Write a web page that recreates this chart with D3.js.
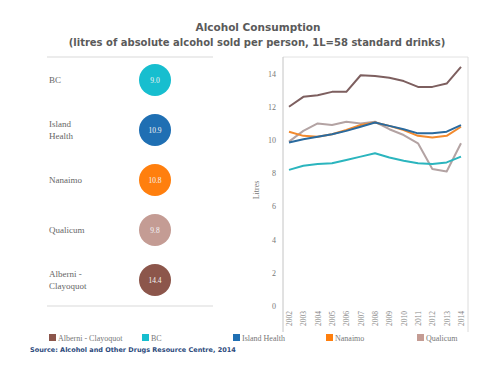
<!DOCTYPE html>
<html>
<head>
<meta charset="utf-8">
<script src="https://cdn.jsdelivr.net/npm/d3@7/dist/d3.min.js"></script>
<style>
  html, body { margin: 0; padding: 0; background: #fff; }
  svg { display: block; }
</style>
</head>
<body>
<svg id="chart" width="491" height="370"></svg>
<script>
// Alcohol consumption, litres of absolute alcohol per person, 2002-2014
const years = [2002, 2003, 2004, 2005, 2006, 2007, 2008, 2009, 2010, 2011, 2012, 2013, 2014];
const regions = ["Alberni - Clayoquot", "BC", "Island Health", "Nanaimo", "Qualicum"];
const alberni  = [12.0, 12.6, 12.7, 12.9, 12.9, 13.9, 13.85, 13.75, 13.55, 13.2, 13.2, 13.4, 14.4];
const bc       = [8.2, 8.45, 8.55, 8.6, 8.8, 9.0, 9.2, 8.95, 8.75, 8.6, 8.55, 8.65, 9.0];
const island   = [9.85, 10.05, 10.2, 10.35, 10.55, 10.8, 11.05, 10.85, 10.65, 10.4, 10.4, 10.5, 10.9];
const nanaimo  = [10.5, 10.25, 10.2, 10.35, 10.6, 10.9, 11.05, 10.85, 10.6, 10.25, 10.15, 10.25, 10.8];
const qualicum = [9.9, 10.55, 11.0, 10.9, 11.1, 11.0, 11.1, 10.65, 10.3, 9.8, 8.25, 8.1, 9.8];
const yTicks = [0, 2, 4, 6, 8, 10, 12, 14];

// 2014 summary circles, top to bottom
const summaryNames  = ["BC", "Island Health", "Nanaimo", "Qualicum", "Alberni - Clayoquot"];
const summaryLabels = [["BC"], ["Island", "Health"], ["Nanaimo"], ["Qualicum"], ["Alberni -", "Clayoquot"]];

const colors = {
  "Alberni - Clayoquot": "#8c564b",
  "BC": "#17becf",
  "Island Health": "#1f6fb3",
  "Nanaimo": "#ff7f0e",
  "Qualicum": "#c49c94"
};
const lineColors = {
  "Alberni - Clayoquot": "#7d5f5f",
  "BC": "#2bb5be",
  "Island Health": "#2a6a9e",
  "Nanaimo": "#f28a2e",
  "Qualicum": "#b3a3a3"
};
const seriesByName = {
  "Alberni - Clayoquot": alberni,
  "BC": bc,
  "Island Health": island,
  "Nanaimo": nanaimo,
  "Qualicum": qualicum
};

const svg = d3.select("#chart");
const serif = "'Liberation Serif', 'DejaVu Serif', serif";
const sans = "'DejaVu Sans', Verdana, sans-serif";

// Title
svg.append("text").attr("x", 258).attr("y", 31).attr("text-anchor", "middle")
  .attr("font-family", sans).attr("font-weight", "bold").attr("font-size", 10.5)
  .attr("fill", "#5a5a5a").text("Alcohol Consumption");
svg.append("text").attr("x", 257).attr("y", 46).attr("text-anchor", "middle")
  .attr("font-family", sans).attr("font-weight", "bold").attr("font-size", 10)
  .attr("fill", "#5a5a5a").text("(litres of absolute alcohol sold per person, 1L=58 standard drinks)");

// Left panel: summary circles
const rowY = d3.scalePoint().domain(summaryNames).range([80, 280]);
svg.append("line").attr("x1", 47).attr("x2", 213).attr("y1", 57).attr("y2", 57)
  .attr("stroke", "#ececec").attr("stroke-width", 2);
svg.append("line").attr("x1", 47).attr("x2", 213).attr("y1", 306).attr("y2", 306)
  .attr("stroke", "#ececec").attr("stroke-width", 2);

const rows = svg.append("g").selectAll("g").data(summaryNames).join("g")
  .attr("transform", d => `translate(0,${rowY(d)})`);
rows.append("text")
  .attr("font-family", serif).attr("font-size", 9).attr("fill", "#666")
  .each(function(d, i) {
    const lines = summaryLabels[i];
    const t = d3.select(this);
    lines.forEach((ln, j) => {
      t.append("tspan").attr("x", 49)
        .attr("y", (j - (lines.length - 1) / 2) * 12 + 3)
        .text(ln);
    });
  });
rows.append("circle").attr("cx", 155).attr("cy", 0).attr("r", 16)
  .attr("fill", d => colors[d]);
rows.append("text").attr("x", 155).attr("y", 2.5).attr("text-anchor", "middle")
  .attr("font-family", serif).attr("font-size", 7.5).attr("fill", "#f4f4f4")
  .text(d => seriesByName[d][seriesByName[d].length - 1].toFixed(1));

// Right panel: line chart
const x = d3.scalePoint().domain(years).range([289, 461]);
const y = d3.scaleLinear().domain([0, 15]).range([306, 57]);

// frame
svg.append("line").attr("x1", 283).attr("x2", 468).attr("y1", 57).attr("y2", 57)
  .attr("stroke", "#e2e2e2");
svg.append("line").attr("x1", 468).attr("x2", 468).attr("y1", 57).attr("y2", 332)
  .attr("stroke", "#dcdcdc");

const yAxis = svg.append("g").attr("transform", "translate(283,0)")
  .call(d3.axisLeft(y).tickValues(yTicks).tickSize(0).tickPadding(7));
yAxis.select(".domain").attr("d", "M0,57V332").attr("stroke", "#c4c4c4");
yAxis.selectAll("text").attr("font-family", serif).attr("font-size", 8).attr("fill", "#777");

const xAxis = svg.append("g").attr("transform", "translate(0,308)")
  .call(d3.axisBottom(x).tickSize(0).tickPadding(3));
xAxis.select(".domain").remove();
xAxis.selectAll("text")
  .attr("font-family", serif).attr("font-size", 7.5).attr("fill", "#888")
  .attr("transform", "rotate(-90)").attr("text-anchor", "end")
  .attr("x", -3).attr("y", 0).attr("dy", "0.32em");

svg.append("text").attr("transform", "translate(259,190) rotate(-90)")
  .attr("text-anchor", "middle").attr("font-family", serif).attr("font-size", 8)
  .attr("fill", "#777").text("Litres");

const line = d3.line().x((d, i) => x(years[i])).y(d => y(d));
const drawOrder = ["Qualicum", "Nanaimo", "BC", "Island Health", "Alberni - Clayoquot"];
svg.append("g").selectAll("path").data(drawOrder).join("path")
  .attr("d", d => line(seriesByName[d]))
  .attr("fill", "none").attr("stroke", d => lineColors[d])
  .attr("stroke-width", 2).attr("stroke-linejoin", "round");

// Legend
const legendX = [49, 142, 233, 326, 417];
const legend = svg.append("g").selectAll("g").data(regions).join("g")
  .attr("transform", (d, i) => `translate(${legendX[i]},338)`);
legend.append("rect").attr("x", 0).attr("y", -4).attr("width", 7).attr("height", 7)
  .attr("fill", d => colors[d]);
legend.append("text").attr("x", 9).attr("y", 2.5)
  .attr("font-family", serif).attr("font-size", 8).attr("fill", "#777").text(d => d);

// Source note
svg.append("text").attr("x", 30).attr("y", 352)
  .attr("font-family", sans).attr("font-size", 6.5).attr("font-weight", "bold")
  .attr("fill", "#2c4a7c").text("Source: Alcohol and Other Drugs Resource Centre, 2014");
</script>
</body>
</html>
